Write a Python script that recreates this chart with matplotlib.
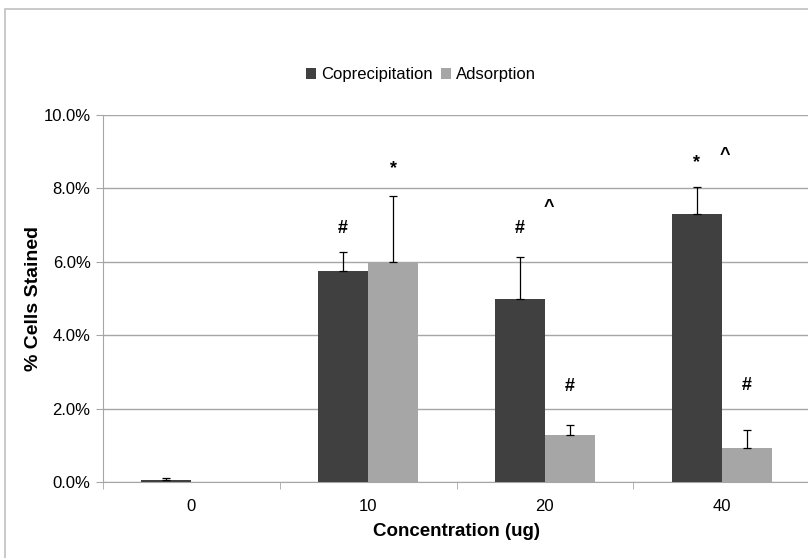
import matplotlib
matplotlib.use("Agg")
import matplotlib.pyplot as plt
import numpy as np
from matplotlib.patches import Rectangle
from matplotlib.ticker import PercentFormatter, FixedLocator

plt.rcParams['font.family'] = ['Liberation Sans', 'DejaVu Sans']

# data (percent cells stained)
concentrations = ['0', '10', '20', '40']
coprecipitation = [0.05, 5.75, 5.0, 7.3]
coprecipitation_err = [0.07, 0.52, 1.12, 0.74]
adsorption = [0.0, 6.0, 1.27, 0.92]
adsorption_err = [0.0, 1.8, 0.27, 0.51]

# significance marks: (category, series, height, text)
marks = [
    (1, 'c', 6.92, '#'), (1, 'a', 8.53, '*'),
    (2, 'c', 6.92, '#'), (2, 'm', 7.49, '^'), (2, 'a', 2.59, '#'),
    (3, 'c', 8.69, '*'), (3, 'm', 8.91, '^'), (3, 'a', 2.64, '#'),
]

dark = '#404040'
light = '#a6a6a6'
grid_col = '#a6a6a6'

fig = plt.figure(figsize=(8.08, 5.58), dpi=100)
# chart frame (cropped on right/bottom like the original)
fig.patches.append(Rectangle((5 / 808, -0.2), 1.2, 1.2 - 9 / 558,
                             transform=fig.transFigure, fill=False,
                             edgecolor='#c0c0c0', linewidth=1.2))

ax = fig.add_axes([103 / 808, 1 - 482 / 558, 707 / 808, (482 - 115) / 558])

x = np.arange(len(concentrations))
w = 0.283
ax.bar(x - w / 2, coprecipitation, w, color=dark, label='Coprecipitation', zorder=3)
ax.bar(x + w / 2, adsorption, w, color=light, label='Adsorption', zorder=3)
ax.errorbar(x - w / 2, coprecipitation, yerr=[np.zeros(4), coprecipitation_err],
            fmt='none', ecolor='black', elinewidth=0.9, capsize=3, capthick=0.9, zorder=4)
ax.errorbar((x + w / 2)[1:], adsorption[1:], yerr=[np.zeros(3), adsorption_err[1:]],
            fmt='none', ecolor='black', elinewidth=0.9, capsize=3, capthick=0.9, zorder=4)

offsets = {'c': -w / 2, 'a': w / 2, 'm': 0.02}
for cat, s, h, t in marks:
    ax.text(cat + offsets[s], h, t, ha='center', va='center',
            fontsize=13, fontweight='bold', color='black', zorder=5)

ax.set_xlim(-0.5, 3.5)
ax.set_ylim(0, 10)
ax.set_yticks(np.arange(0, 10.1, 2))
ax.yaxis.set_major_formatter(PercentFormatter(decimals=1))
ax.yaxis.grid(True, color=grid_col, linewidth=1.0, zorder=0)
ax.set_xticks(x)
ax.set_xticklabels(concentrations)
ax.xaxis.set_minor_locator(FixedLocator(np.arange(-0.5, 3.6, 1)))
ax.tick_params(axis='x', which='major', length=0, pad=12, labelsize=12)
ax.tick_params(axis='x', which='minor', length=5, color=grid_col)
ax.tick_params(axis='y', length=5, color=grid_col, labelsize=12, pad=4)

for side in ['top', 'right']:
    ax.spines[side].set_visible(False)
for side in ['left', 'bottom']:
    ax.spines[side].set_color(grid_col)

ax.set_ylabel('% Cells Stained', fontsize=14, fontweight='bold', va='center')
ax.yaxis.set_label_coords(-70 / 707, 0.5)
ax.set_xlabel('Concentration (ug)', fontsize=13.5, fontweight='bold', labelpad=7)

fig.legend(loc='center', bbox_to_anchor=(421 / 808, 1 - 75 / 558), ncol=2, frameon=False,
           fontsize=12, handlelength=0.6, handleheight=0.6, handletextpad=0.3,
           columnspacing=0.5)

fig.savefig('out.png', dpi=100)
